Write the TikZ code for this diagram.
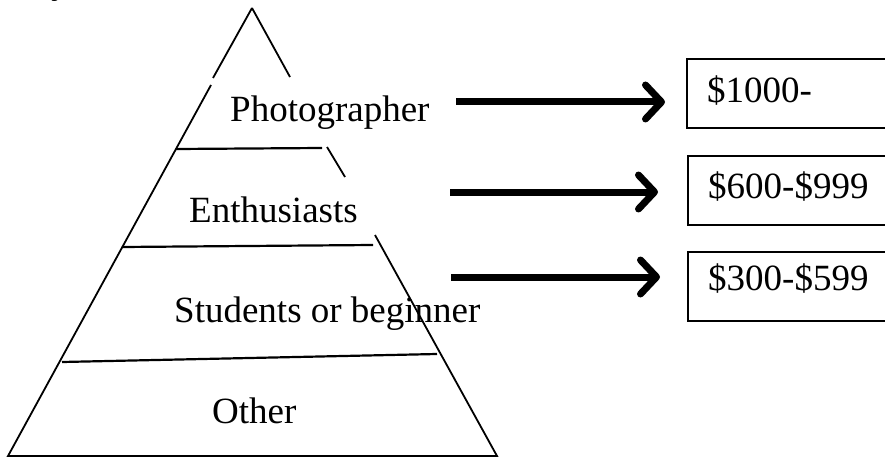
\documentclass[tikz,border=0pt]{standalone}
\usepackage{fontspec}
\setmainfont{Liberation Serif}
\usetikzlibrary{arrows.meta}
\begin{document}
\begin{tikzpicture}[x=1pt,y=-1pt,
  edge/.style={line width=1.8pt},
  tier/.style={line width=2.2pt},
  lbl/.style={inner sep=0pt,anchor=base west,font=\fontsize{37}{44}\selectfont},
  pricebox/.style={draw,line width=1.8pt,minimum width=230pt,minimum height=69pt,anchor=north west,inner sep=0pt},
  arr/.style={line width=7pt,-{Straight Barb[length=16pt,width=34pt,round]}}]
\useasboundingbox (0,0) rectangle (885,457);
\begin{scope}
\clip (0,0) rectangle (885,457);
\node[lbl] (frag) at (51,-6.5) {y};
% pyramid edges
\coordinate (apex) at (252,8);
\coordinate (bl) at (8,456);
\coordinate (br) at (497,456);
\draw[edge] (apex) -- (213,78);
\draw[edge] (211,85) -- (bl) -- (br) -- (375,235);
\draw[edge] (apex) -- (290,77);
\draw[edge] (327,147) -- (345,177);
% tier lines
\draw[tier] (176,149) -- (322,148);
\draw[tier] (122,247) -- (373,245);
\draw[tier] (62,362) -- (437,354);
% labels
\node[lbl] (photo) at (230,122) {Photographer};
\node[lbl] (enth) at (189,222) {Enthusiasts};
\node[lbl] (stud) at (174,322) {Students or beginner};
\node[lbl] (other) at (212,423) {Other};
% boxes
\node[pricebox] (b1) at (686,58) {};
\node[pricebox] (b2) at (687,155) {};
\node[pricebox] (b3) at (687,251) {};
\node[lbl] (t1) at (707,103) {\$1000-};
\node[lbl] (t2) at (708,198) {\$600-\$999};
\node[lbl] (t3) at (708,290) {\$300-\$599};
% arrows
\coordinate (s1) at (456,102);
\coordinate (s2) at (450,192);
\coordinate (s3) at (451,277);
\draw[arr,shorten >=21pt] (s1) -- (s1 -| b1.west);
\draw[arr,shorten >=29pt] (s2) -- (s2 -| b2.west);
\draw[arr,shorten >=27pt] (s3) -- (s3 -| b3.west);
\end{scope}
\end{tikzpicture}
\end{document}
